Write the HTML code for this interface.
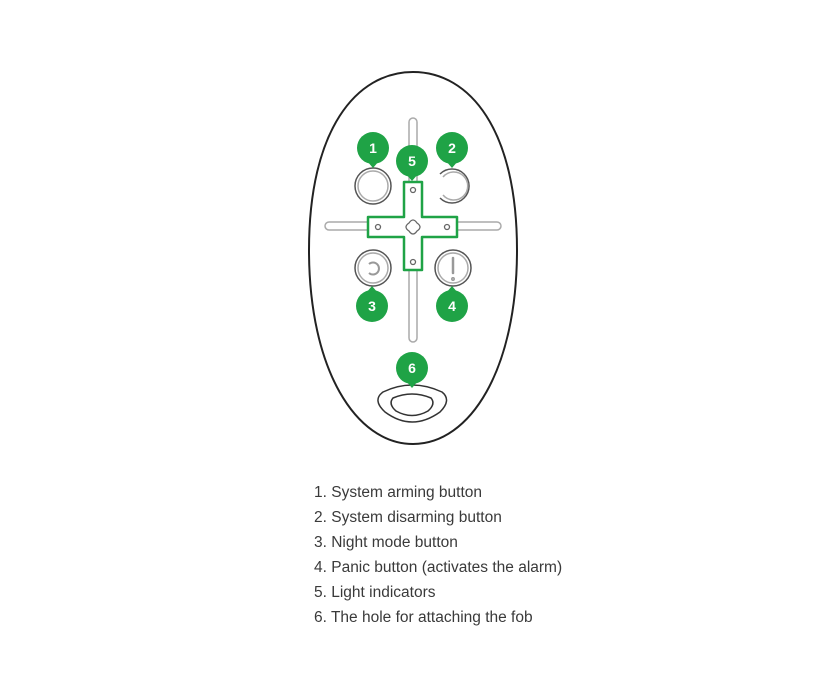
<!DOCTYPE html>
<html><head><style>
body{margin:0;width:828px;height:696px;background:#fff;overflow:hidden;position:relative;font-family:"Liberation Sans",sans-serif}
.t{position:absolute;left:314px;font-size:15.5px;color:#3a3a3a;line-height:20px}
</style></head><body>
<svg width="828" height="696" style="position:absolute;left:0;top:0">
<path d="M413 72 C470 72 517 130 517 250 C517 370 470 444 413 444 C356 444 309 370 309 250 C309 130 356 72 413 72 Z" fill="#fff" stroke="#222" stroke-width="2"/>
<g fill="#fff" stroke="#aaa" stroke-width="1.5">
<rect x="409" y="118" width="8" height="224" rx="4"/>
<rect x="325" y="222" width="176" height="8" rx="4"/>
</g>
<path d="M404 182 h18 v35 h35 v20 h-35 v33 h-18 v-33 h-36 v-20 h36 z" fill="#fff" stroke="#1fa346" stroke-width="2.5" stroke-linejoin="round"/>
<g fill="#fff" stroke="#666" stroke-width="1.3">
<circle cx="413" cy="190" r="2.5"/><circle cx="413" cy="262" r="2.5"/>
<circle cx="378" cy="227" r="2.5"/><circle cx="447" cy="227" r="2.5"/>
<path d="M409 223 q4 -6 8 0 q6 4 0 8 q-4 6 -8 0 q-6 -4 0 -8z"/>
</g>
<g fill="none" stroke="#555" stroke-width="1.5">
<circle cx="373" cy="186" r="18"/><circle cx="373" cy="186" r="15" stroke="#aaa"/>
<path d="M440 174 A17 17 0 1 1 440 198"/>
<path d="M443 177 A14 14 0 1 1 443 195" stroke="#aaa"/>
<circle cx="373" cy="268" r="18"/><circle cx="373" cy="268" r="15" stroke="#aaa"/>
<path d="M369 264 A6 6 0 1 1 369 273" stroke="#999" stroke-width="2"/>
<circle cx="453" cy="268" r="18"/><circle cx="453" cy="268" r="15" stroke="#aaa"/>
<line x1="453" y1="258" x2="453" y2="273" stroke="#999" stroke-width="2.5" stroke-linecap="round"/>
<circle cx="453" cy="279" r="1.2" stroke="#999"/>
<path d="M383 392 Q412 378 442 392 Q452 400 440 412 Q412 432 385 412 Q372 400 383 392Z" stroke="#333"/>
<path d="M393 398 Q412 390 431 398 Q436 404 428 411 Q412 420 396 411 Q388 404 393 398Z" stroke="#333"/>
</g>
<g fill="#1fa346">
<circle cx="373" cy="148" r="16"/><path d="M367 161 L379 161 L373 168Z"/>
<circle cx="452" cy="148" r="16"/><path d="M446 161 L458 161 L452 168Z"/>
<circle cx="412" cy="161" r="16"/><path d="M406 174 L418 174 L412 181Z"/>
<circle cx="372" cy="306" r="16"/><path d="M366 293 L378 293 L372 286Z"/>
<circle cx="452" cy="306" r="16"/><path d="M446 293 L458 293 L452 286Z"/>
<circle cx="412" cy="368" r="16"/><path d="M406 381 L418 381 L412 388Z"/>
</g>
<g fill="#fff" font-family="Liberation Sans" font-weight="bold" font-size="14" text-anchor="middle">
<text x="373" y="153">1</text><text x="452" y="153">2</text><text x="412" y="166">5</text>
<text x="372" y="311">3</text><text x="452" y="311">4</text><text x="412" y="373">6</text>
</g>
</svg>
<div class="t" style="top:483px">1. System arming button</div>
<div class="t" style="top:508px">2. System disarming button</div>
<div class="t" style="top:533px">3. Night mode button</div>
<div class="t" style="top:558px">4. Panic button (activates the alarm)</div>
<div class="t" style="top:583px">5. Light indicators</div>
<div class="t" style="top:608px">6. The hole for attaching the fob</div>
</body></html>
